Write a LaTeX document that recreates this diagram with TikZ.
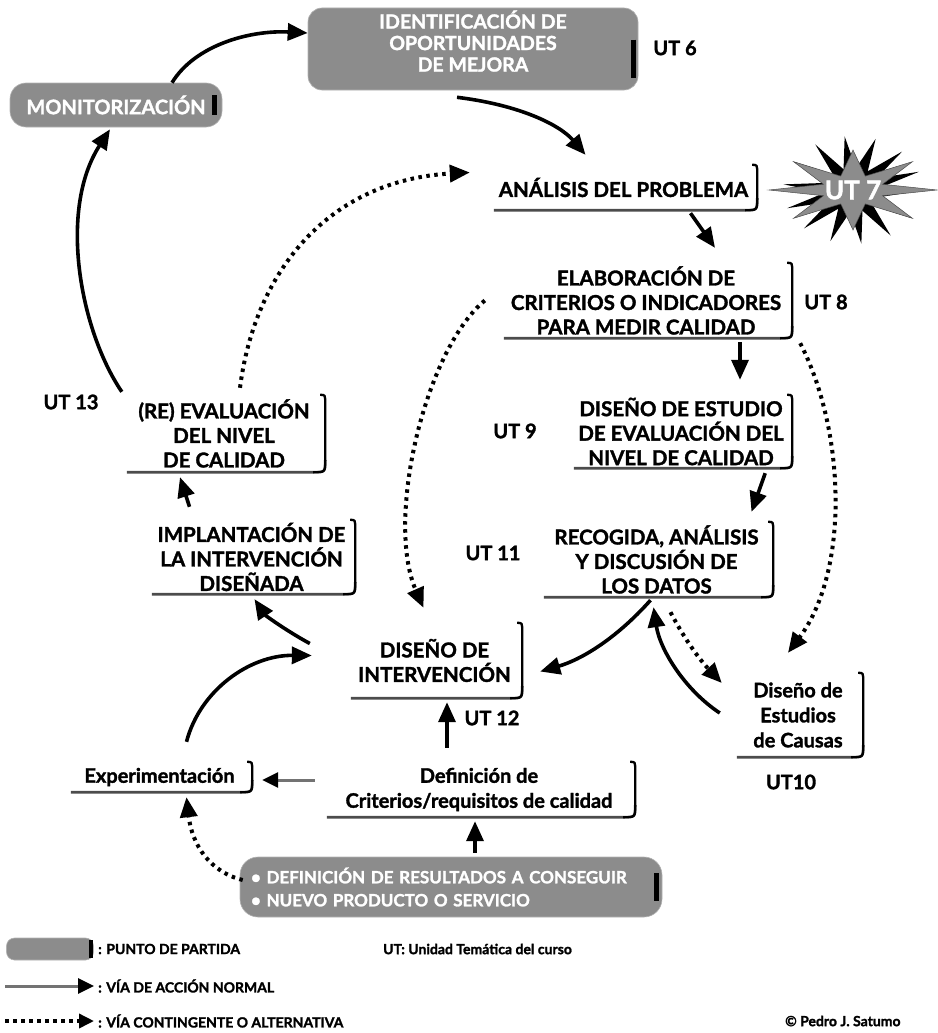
\documentclass[tikz,border=0pt]{standalone}
\usepackage{fontspec}
\setmainfont{Lato}[BoldFeatures={FakeBold=1.6}]
\usetikzlibrary{arrows.meta,calc}

% right-hand bracket with a rounded foot under a process box
\newcommand\brk[1]{%
  \draw[line width=2.6pt, black!70] ([yshift=12pt]#1.south east) .. controls (#1.south east) .. ([xshift=-12pt]#1.south east) -- ([xshift=4pt]#1.south west);
  \draw[line width=2.3pt, black] ([xshift=-5pt]#1.north east) .. controls (#1.north east) .. ([yshift=-9pt]#1.north east) -- ([yshift=12pt]#1.south east) .. controls (#1.south east) .. ([xshift=-12pt]#1.south east);
}

\begin{document}
\begin{tikzpicture}[x=1pt,y=-1pt,
  box/.style={inner sep=0pt, align=center, font=\bfseries\fontsize{20.5}{24.5}\selectfont},
  mbox/.style={inner sep=0pt, align=center, font=\bfseries\fontsize{20}{25}\selectfont},
  startbox/.style={fill=black!45, draw=black!30, line width=0.6pt, rounded corners=14pt, text=white, inner sep=0pt},
  ut/.style={inner sep=0pt, font=\bfseries\fontsize{20}{22}\selectfont},
  legend/.style={inner sep=0pt, font=\bfseries\fontsize{14}{16}\selectfont},
  flow/.style={line width=3.6pt, -{Triangle[length=20pt,width=17pt]}},
  alt/.style={line width=4pt, dash pattern=on 3.5pt off 4.5pt, -{Triangle[length=20pt,width=17pt]}},
  grayflow/.style={line width=3pt, black!55, -{Triangle[length=16pt,width=15pt,color=black]}},
  edgestrip/.style={line width=5pt, black}
]
\useasboundingbox (0,0) rectangle (937,1033);

% ---------- starting points (grey boxes) ----------
\node[startbox, minimum width=330pt, minimum height=82pt, align=center, text depth=16pt,
      font=\bfseries\fontsize{19.5}{21.5}\selectfont] (ident) at (473,49)
  {IDENTIFICACIÓN DE\\OPORTUNIDADES\\DE MEJORA};
\draw[edgestrip] ([xshift=-5pt,yshift=-32pt]ident.north east) -- ([xshift=-5pt,yshift=12pt]ident.south east);

\node[startbox, minimum width=212pt, minimum height=44pt, rounded corners=16pt,
      font=\bfseries\fontsize{20}{22}\selectfont] (mon) at (116,105)
  {MONITORIZACIÓN};
\draw[edgestrip] ([xshift=-8pt,yshift=10pt]mon.east) -- ([xshift=-8pt,yshift=-10pt]mon.east);

\node[startbox, minimum width=422pt, minimum height=60pt, rounded corners=18pt,
      text width=400pt, align=left, inner xsep=11pt,
      font=\bfseries\fontsize{17}{23}\selectfont] (start) at (451,887)
  {• DEFINICIÓN DE RESULTADOS A CONSEGUIR\\• NUEVO PRODUCTO O SERVICIO};
\draw[edgestrip] ([xshift=-6pt,yshift=14pt]start.east) -- ([xshift=-6pt,yshift=-14pt]start.east);

% ---------- process boxes ----------
\node[box, minimum width=267pt, minimum height=45pt] (ana) at (623.5,187.5) {ANÁLISIS DEL PROBLEMA};
\node[box, minimum width=292pt, minimum height=75pt] (elab) at (646,300.5) {ELABORACIÓN DE\\CRITERIOS O INDICADORES\\PARA MEDIR CALIDAD};
\node[box, minimum width=222pt, minimum height=73pt] (dest) at (681,431.5) {DISEÑO DE ESTUDIO\\DE EVALUACIÓN DEL\\NIVEL DE CALIDAD};
\node[box, minimum width=233pt, minimum height=75pt] (reco) at (656.5,559.5) {RECOGIDA, ANÁLISIS\\Y DISCUSIÓN DE\\LOS DATOS};
\node[mbox, minimum width=130pt, minimum height=84pt] (causas) at (798,715) {Diseño de\\Estudios\\de Causas};
\node[box, minimum width=175pt, minimum height=75pt] (dint) at (434.5,660.5) {DISEÑO DE\\INTERVENCIÓN};
\node[mbox, minimum width=312pt, minimum height=55pt] (def) at (479,789.5) {Definición de\\Criterios/requisitos de calidad};
\node[mbox, minimum width=185pt, minimum height=30pt] (exp) at (159.5,777) {Experimentación};
\node[box, minimum width=207pt, minimum height=74pt] (impl) at (251.5,557) {IMPLANTACIÓN DE\\LA INTERVENCIÓN\\DISEÑADA};
\node[box, minimum width=202pt, minimum height=77pt] (reev) at (224,433.5) {(RE) EVALUACIÓN\\DEL NIVEL\\DE CALIDAD};

\foreach \n in {ana,elab,dest,reco,causas,dint,def,exp,impl,reev} {\brk{\n}}

% ---------- course units ----------
\node[ut] (ut6) at (675,48) {UT 6};
\node[ut] (ut8) at (826,302) {UT 8};
\node[ut] (ut9) at (515,431) {UT 9};
\node[ut] (ut11) at (493,553) {UT 11};
\node[ut] (ut12) at (492,718) {UT 12};
\node[ut] (ut10) at (791,782) {UT10};
\node[ut] (ut13) at (71,402) {UT 13};

% burst behind unit 7
\fill[black] (925,190) \foreach \i in {1,...,27} {
  -- ({853+(mod(\i,2)==0 ? 70 : 28)*cos(\i*360/28+6)}, {190+(mod(\i,2)==0 ? 54 : 22)*sin(\i*360/28+6)}) } -- cycle;
\filldraw[fill=black!45, draw=black!70, line width=0.5pt] (937,190) \foreach \i in {1,...,15} {
  -- ({853+(mod(\i,2)==0 ? 84 : 32)*cos(\i*360/16)}, {190+(mod(\i,2)==0 ? 40 : 15)*sin(\i*360/16)}) } -- cycle;
\node[inner sep=0pt, text=white, font=\bfseries\fontsize{26}{28}\selectfont] (ut7) at (853,190) {UT 7};

% ---------- normal path ----------
\draw[flow] ([xshift=56pt]mon.north) .. controls (195,45) and (250,30) .. ([yshift=16pt]ident.west);
\draw[flow] ([xshift=-16pt,yshift=-7pt]ident.south) .. controls (520,105) and (560,125) .. ([xshift=-38pt,yshift=10pt]ana.north);
\draw[flow] ([xshift=67pt,yshift=-3pt]ana.south) -- ([xshift=69pt,yshift=15pt]elab.north);
\draw[flow] ([xshift=94pt,yshift=-4pt]elab.south) -- ([xshift=59pt,yshift=15pt]dest.north);
\draw[flow] ([xshift=-27pt,yshift=-5pt]dest.south east) -- ([xshift=95pt,yshift=10pt]reco.north);
\draw[flow] ([xshift=-6pt,yshift=-3pt]reco.south) .. controls (615,640) and (580,660) .. ([xshift=18pt,yshift=-11pt]dint.east);
\draw[flow] ([xshift=-13pt,yshift=2pt]causas.west) .. controls (685,690) and (660,650) .. ([xshift=-3pt,yshift=-10pt]reco.south);
\draw[flow] ([xshift=-32pt,yshift=14pt]def.north) -- ([xshift=12.5pt,yshift=-4pt]dint.south);
\draw[grayflow] ([xshift=-8pt,yshift=9.5pt]def.west) -- ([xshift=10pt,yshift=-3pt]exp.east);
\draw[flow] ([xshift=27pt,yshift=20pt]exp.north) .. controls (200,690) and (250,655) .. ([xshift=-35pt,yshift=5pt]dint.west);
\draw[flow] ([xshift=-37pt,yshift=17pt]dint.west) .. controls (285,630) and (265,615) .. ([xshift=3pt,yshift=-5pt]impl.south);
\draw[flow] ([xshift=-62pt,yshift=13pt]impl.north) -- ([xshift=-44pt,yshift=-5pt]reev.south);
\draw[flow] ([xshift=-1pt,yshift=3pt]reev.north west) .. controls (80,330) and (58,210) .. ([xshift=-6pt,yshift=-2pt]mon.south);
\draw[flow] ([xshift=24pt,yshift=4pt]start.north) -- ([xshift=-4pt,yshift=-4pt]def.south);

% ---------- contingent path ----------
\draw[alt] ([xshift=16pt,yshift=7pt]reev.north) .. controls (255,270) and (330,180) .. ([xshift=-20pt,yshift=15pt]ana.west);
\draw[alt] ([xshift=-15pt]elab.west) .. controls (425,350) and (385,520) .. ([xshift=-11pt,yshift=15pt]dint.north);
\draw[alt] ([xshift=8pt,yshift=-5pt]elab.south east) .. controls (845,430) and (850,570) .. ([xshift=-10pt,yshift=20pt]causas.north);
\draw[alt] ([xshift=14pt,yshift=-15pt]reco.south) .. controls (685,640) and (700,660) .. ([xshift=-11pt,yshift=32pt]causas.west);
\draw[alt] ([xshift=3pt,yshift=7pt]start.west) .. controls (210,872) and (192,845) .. ([xshift=27pt,yshift=-5pt]exp.south);

% ---------- key ----------
\node[startbox, minimum width=87pt, minimum height=22pt, rounded corners=8pt] (keybox) at (50,949) {};
\draw[line width=4pt] ([xshift=-3pt,yshift=9pt]keybox.east) -- ([xshift=-3pt,yshift=-9pt]keybox.east);
\node[legend, anchor=west] (key1) at (98,949) {: PUNTO DE PARTIDA};
\coordinate (k2a) at (5,986);
\coordinate (k2b) at (94,986);
\draw[grayflow] (k2a) -- (k2b);
\node[legend, anchor=west] (key2) at (98,986) {: VÍA DE ACCIÓN NORMAL};
\coordinate (k3a) at (5,1021);
\coordinate (k3b) at (94,1021);
\draw[alt, line width=3.5pt, -{Triangle[length=15pt,width=14pt]}] (k3a) -- (k3b);
\node[legend, anchor=west] (key3) at (98,1021) {: VÍA CONTINGENTE O ALTERNATIVA};
\node[legend, anchor=west] (utnote) at (383,949) {UT: Unidad Temática del curso};
\node[legend, anchor=west] (author) at (785,1021) {© Pedro J. Satumo};
\end{tikzpicture}
\end{document}
